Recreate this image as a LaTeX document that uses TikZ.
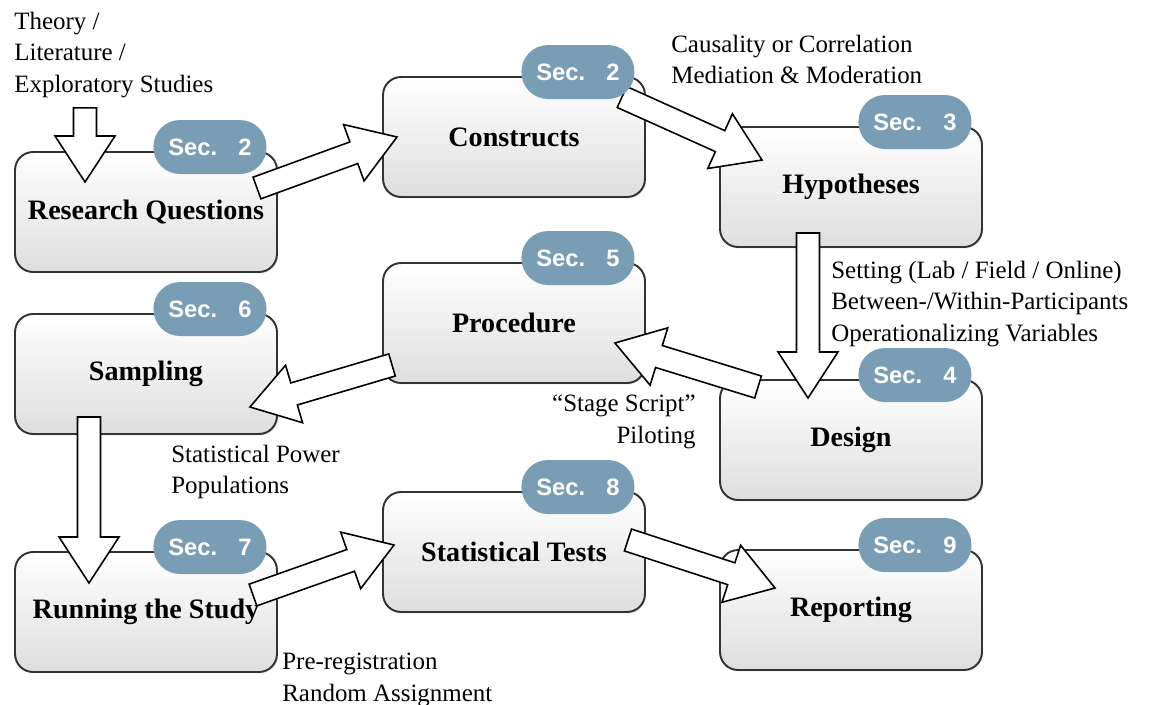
\documentclass[tikz,border=0pt]{standalone}
\usepackage{fontspec}
\setmainfont{Liberation Serif}
\setsansfont{Liberation Sans}
\usepackage{tikz}
\usetikzlibrary{calc, shadows}
\definecolor{secblue}{RGB}{120,157,181}

% white block arrow from #1 to #2
\newcommand{\fatarrow}[2]{%
  \coordinate (hb) at ($(#2)!0.92cm!(#1)$);
  \draw [blockarrow] ($(#1)!0.23cm!90:(#2)$) -- ($(hb)!0.23cm!90:(#2)$)
    -- ($(hb)!0.6cm!90:(#2)$) -- (#2) -- ($(hb)!0.6cm!-90:(#2)$)
    -- ($(hb)!0.23cm!-90:(#2)$) -- ($(#1)!0.23cm!-90:(#2)$) -- cycle;
}

\begin{document}
\begin{tikzpicture}[x=0.02cm, y=-0.02cm,
    stepbox/.style={draw=black!80, line width=1.1pt, rounded corners=0.36cm,
      top color=white, bottom color=black!13, minimum width=5.24cm,
      minimum height=2.4cm, outer sep=0pt,
      font=\fontsize{16}{19}\selectfont\bfseries,
      drop shadow={opacity=0.2, shadow xshift=0.6pt, shadow yshift=-0.8pt}},
    secbadge/.style={fill=secblue, text=white, minimum width=2.26cm,
      minimum height=1.08cm, rounded corners=0.53cm, inner sep=0pt,
      font=\sffamily\bfseries\fontsize{13.5}{15}\selectfont},
    note/.style={inner sep=0pt, align=left, font=\fontsize{14.2}{17.8}\selectfont},
    blockarrow/.style={draw=black, line width=0.9pt, fill=white, line join=miter}]
        \useasboundingbox (0, 0) rectangle (1157, 704);
        % Boxes
        \node [stepbox] (rq) at (146, 212) {Research Questions};
        \node [stepbox] (con) at (514, 137) {Constructs};
        \node [stepbox] (hyp) at (851, 187) {Hypotheses};
        \node [stepbox] (proc) at (514, 323) {Procedure};
        \node [stepbox] (samp) at (146, 374) {Sampling};
        \node [stepbox] (des) at (851, 440) {Design};
        \node [stepbox] (stat) at (514, 552) {Statistical Tests};
        \node [stepbox] (run) at (146, 612) {Running the Study};
        \node [stepbox] (rep) at (851, 610) {Reporting};
        % Notes
        \node [note, anchor=north west] (src) at (14, 12) {Theory /\\Literature /\\Exploratory Studies};
        \node [note, anchor=north west] (con-note) at (671, 35) {Causality or Correlation\\Mediation \& Moderation};
        \node [note, anchor=north west] (des-note) at (831, 261) {Setting (Lab / Field / Online)\\Between-/Within-Participants\\Operationalizing Variables};
        \node [note, anchor=north east, align=right] (proc-note) at (696, 395) {``Stage Script''\\Piloting};
        \node [note, anchor=north west] (samp-note) at (171, 445) {Statistical Power\\Populations};
        \node [note, anchor=north west] (run-note) at (282, 653) {Pre-registration\\Random Assignment};
        % Arrow ends
        \coordinate (src-out) at ($(src.south west)+(71, 10)$);
        \coordinate (rq-in) at ($(rq.north west)+(70, 30)$);
        \coordinate (rq-out) at ($(rq.east)+(-20, -24)$);
        \coordinate (con-in) at ($(con.west)+(14, 0)$);
        \coordinate (con-out) at ($(con.north east)+(-23, 20)$);
        \coordinate (hyp-in) at ($(hyp.west)+(42, -27)$);
        \coordinate (hyp-out) at ($(hyp.south)+(-43, -14)$);
        \coordinate (des-in) at ($(des.north)+(-43, 18)$);
        \coordinate (des-out) at ($(des.north west)+(38, 7)$);
        \coordinate (proc-in) at ($(proc.south east)+(-30, -40)$);
        \coordinate (proc-out) at ($(proc.south west)+(9, -18)$);
        \coordinate (samp-in) at ($(samp.east)+(-27, 33)$);
        \coordinate (samp-out) at ($(samp.south)+(-57, -17)$);
        \coordinate (run-in) at ($(run.north)+(-57, 31)$);
        \coordinate (run-out) at ($(run.east)+(-24, -17)$);
        \coordinate (stat-in) at ($(stat.west)+(11, -7)$);
        \coordinate (stat-out) at ($(stat.east)+(-17, -12)$);
        \coordinate (rep-in) at ($(rep.north west)+(55, 38)$);
        % Arrows
        \fatarrow{src-out}{rq-in}
        \fatarrow{rq-out}{con-in}
        \fatarrow{con-out}{hyp-in}
        \fatarrow{hyp-out}{des-in}
        \fatarrow{des-out}{proc-in}
        \fatarrow{proc-out}{samp-in}
        \fatarrow{samp-out}{run-in}
        \fatarrow{run-out}{stat-in}
        \fatarrow{stat-out}{rep-in}
        % Section badges
        \node [secbadge] (rq-sec) at ($(rq.north east)+(-67, -5)$) {Sec.\hspace{0.9em}2};
        \node [secbadge] (con-sec) at ($(con.north east)+(-67, -5)$) {Sec.\hspace{0.9em}2};
        \node [secbadge] (hyp-sec) at ($(hyp.north east)+(-67, -5)$) {Sec.\hspace{0.9em}3};
        \node [secbadge] (des-sec) at ($(des.north east)+(-67, -5)$) {Sec.\hspace{0.9em}4};
        \node [secbadge] (proc-sec) at ($(proc.north east)+(-67, -5)$) {Sec.\hspace{0.9em}5};
        \node [secbadge] (samp-sec) at ($(samp.north east)+(-67, -5)$) {Sec.\hspace{0.9em}6};
        \node [secbadge] (run-sec) at ($(run.north east)+(-67, -5)$) {Sec.\hspace{0.9em}7};
        \node [secbadge] (stat-sec) at ($(stat.north east)+(-67, -5)$) {Sec.\hspace{0.9em}8};
        \node [secbadge] (rep-sec) at ($(rep.north east)+(-67, -5)$) {Sec.\hspace{0.9em}9};
\end{tikzpicture}
\end{document}
